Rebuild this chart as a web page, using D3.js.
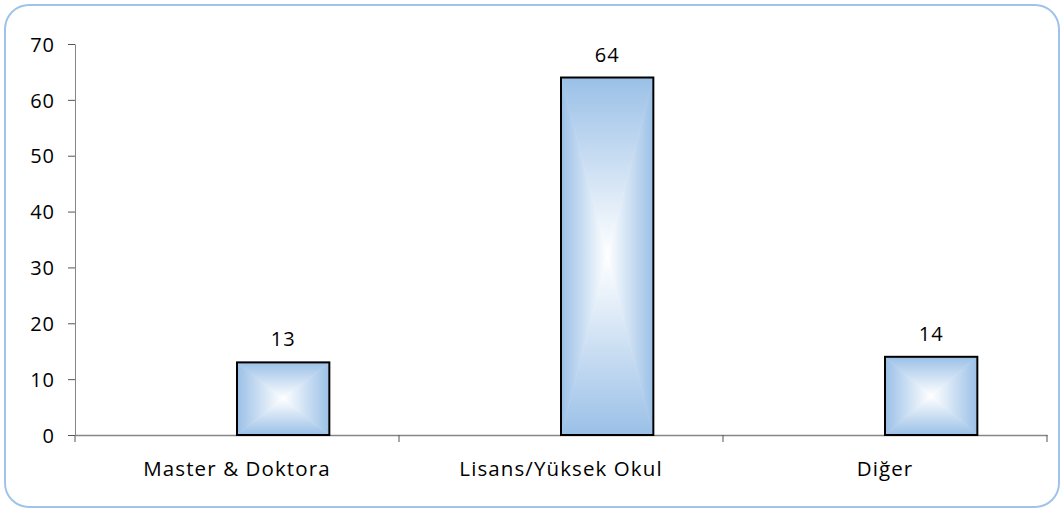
<!DOCTYPE html>
<html>
<head>
<meta charset="utf-8">
<script src="https://cdn.jsdelivr.net/npm/d3@7"></script>
<style>
  body { margin: 0; background: #fff; }
  svg { display: block; font-family: "Open Sans", "Noto Sans", sans-serif; }
</style>
</head>
<body>
<div id="chart"></div>
<script>
const categories = ["Master & Doktora", "Lisans/Yüksek Okul", "Diğer"];
const values = [13, 64, 14];
const yTicks = [0, 10, 20, 30, 40, 50, 60, 70];

const W = 1064, H = 511;
const margin = { top: 44, right: 17, bottom: 76, left: 75 };
const width = W - margin.left - margin.right;
const height = H - margin.top - margin.bottom;

const svg = d3.select("#chart").append("svg")
    .attr("width", W)
    .attr("height", H);

// outer frame
svg.append("rect")
    .attr("x", 5).attr("y", 5)
    .attr("width", W - 10).attr("height", H - 9)
    .attr("rx", 24).attr("ry", 24)
    .attr("fill", "#fff")
    .attr("stroke", "#a0c4e8")
    .attr("stroke-width", 2);

const defs = svg.append("defs");
const edge = "#9ac0e7";
// box gradient built from four triangles, each fading edge -> centre
[["top", 0, 0, 0, 1], ["bottom", 0, 1, 0, 0], ["left", 0, 0, 1, 0], ["right", 1, 0, 0, 0]]
    .forEach(([id, x1, y1, x2, y2]) => {
        const g = defs.append("linearGradient")
            .attr("id", "g-" + id)
            .attr("x1", x1).attr("y1", y1).attr("x2", x2).attr("y2", y2);
        g.append("stop").attr("offset", 0).attr("stop-color", edge);
        g.append("stop").attr("offset", 1).attr("stop-color", "#ffffff");
    });

const g = svg.append("g").attr("transform", `translate(${margin.left},${margin.top})`);

const x = d3.scaleBand().domain(categories).range([0, width]);
const y = d3.scaleLinear().domain([0, 70]).range([height, 0]);

// y axis
const yAxis = g.append("g")
    .call(d3.axisLeft(y).tickValues(yTicks).tickSize(7).tickPadding(13).tickSizeOuter(0));
yAxis.attr("font-family", null).attr("font-size", null);
yAxis.select(".domain").attr("stroke", "#868686");
yAxis.selectAll(".tick line").attr("stroke", "#555");
yAxis.selectAll("text")
    .style("font-size", "20px")
    .style("letter-spacing", "1px")
    .attr("dy", "0.36em")
    .attr("fill", "#000");

// x axis
const xAxis = g.append("g")
    .attr("transform", `translate(0,${height})`)
    .call(d3.axisBottom(x).tickSize(0).tickPadding(26));
xAxis.attr("font-family", null).attr("font-size", null);
xAxis.select(".domain").attr("stroke", "#868686").attr("stroke-width", 1.5);
xAxis.selectAll("text")
    .style("font-size", "20.5px")
    .style("letter-spacing", "1.1px")
    .attr("fill", "#000");
// tick marks at band boundaries
const bounds = categories.map(c => x(c)).concat([width]);
g.append("g").selectAll("line").data(bounds).join("line")
    .attr("x1", d => d).attr("x2", d => d)
    .attr("y1", height).attr("y2", height + 7)
    .attr("stroke", "#555");

// bars sit from band centre rightwards (as in the original)
const barW = x.bandwidth() * 0.285;
const bars = g.append("g").selectAll("g.bar").data(values).join("g").attr("class", "bar");

bars.each(function (v, i) {
    const bx = x(categories[i]) + x.bandwidth() / 2;
    const by = y(v);
    const bh = y(0) - by;
    const cx = bx + barW / 2, cy = by + bh / 2;
    const s = d3.select(this);
    const tri = [
        ["top", [[bx, by], [bx + barW, by], [cx, cy]]],
        ["bottom", [[bx, by + bh], [bx + barW, by + bh], [cx, cy]]],
        ["left", [[bx, by], [bx, by + bh], [cx, cy]]],
        ["right", [[bx + barW, by], [bx + barW, by + bh], [cx, cy]]]
    ];
    tri.forEach(([id, pts]) => {
        s.append("polygon")
            .attr("points", pts.map(p => p.join(",")).join(" "))
            .attr("fill", `url(#g-${id})`)
            .attr("stroke", `url(#g-${id})`)
            .attr("stroke-width", 0.6);
    });
    s.append("rect")
        .attr("x", bx).attr("y", by)
        .attr("width", barW).attr("height", bh)
        .attr("fill", "none")
        .attr("stroke", "#000")
        .attr("stroke-width", 2);
    s.append("text")
        .attr("x", cx).attr("y", by - 16)
        .attr("text-anchor", "middle")
        .style("font-size", "20px")
        .style("letter-spacing", "1px")
        .text(v);
});
</script>
</body>
</html>
